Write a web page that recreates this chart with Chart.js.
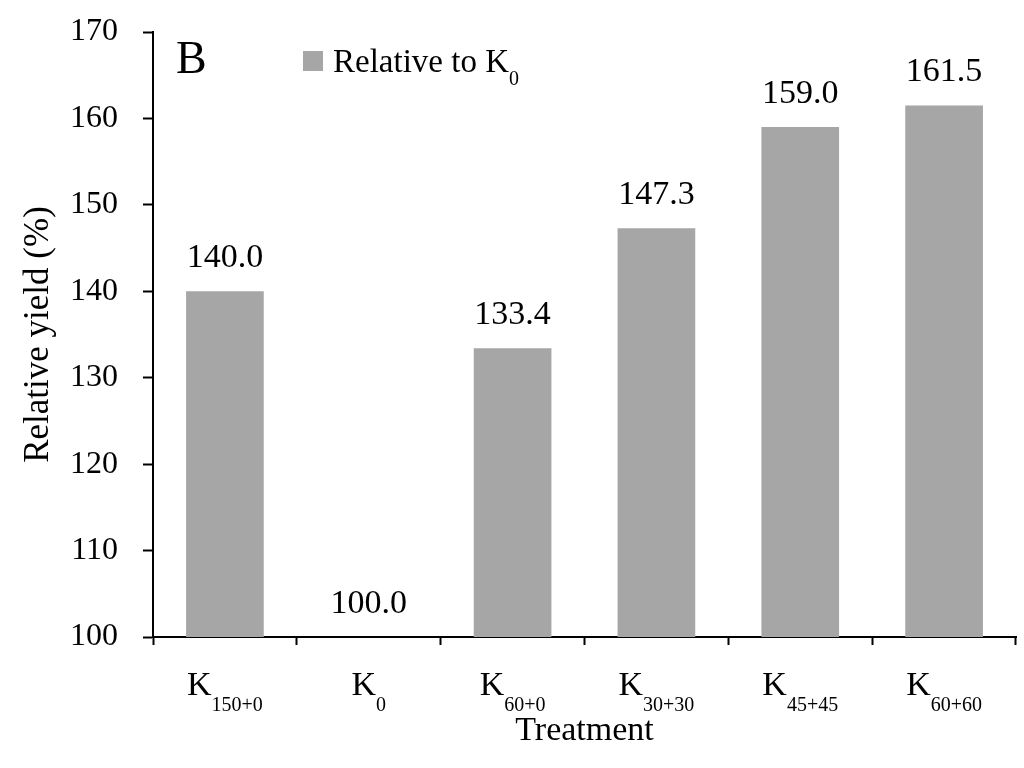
<!DOCTYPE html>
<html>
<head>
<meta charset="utf-8">
<script src="https://cdn.jsdelivr.net/npm/chart.js@4.4.1/dist/chart.umd.min.js"></script>
<style>
  html, body { margin: 0; padding: 0; background: #fff; }
  #wrap { width: 1024px; height: 768px; }
</style>
</head>
<body>
<div id="wrap"><canvas id="chart"></canvas></div>
<script>
// data
var treatmentBase = ["K", "K", "K", "K", "K", "K"];
var treatmentSub = ["150+0", "0", "60+0", "30+30", "45+45", "60+60"];
var relativeYield = [140.0, 100.0, 133.4, 147.3, 159.0, 161.5];
var yMin = 100, yMax = 170, yStep = 10;
var legendBase = "Relative to K";
var legendSub = "0";
var panelLetter = "B";

var serif = "'Liberation Serif', 'Times New Roman', serif";
var barColor = "#a6a6a6";

// labels, value labels, legend, panel letter
var drawTexts = {
    id: "drawTexts",
    afterDatasetsDraw: function (chart) {
        var ctx = chart.ctx;
        var xs = chart.scales.x;
        var meta = chart.getDatasetMeta(0);
        ctx.save();
        ctx.fillStyle = "#000";
        ctx.textBaseline = "alphabetic";

        // values above bars
        ctx.font = "34px " + serif;
        ctx.textAlign = "center";
        meta.data.forEach(function (bar, i) {
            ctx.fillText(relativeYield[i].toFixed(1), bar.x, bar.y - 24);
        });

        // category labels with subscripts
        ctx.textAlign = "left";
        treatmentBase.forEach(function (b, i) {
            ctx.font = "34px " + serif;
            var w1 = ctx.measureText(b).width;
            ctx.font = "20px " + serif;
            var w2 = ctx.measureText(treatmentSub[i]).width;
            var x0 = xs.getPixelForValue(i) - (w1 + w2) / 2;
            ctx.font = "34px " + serif;
            ctx.fillText(b, x0, 695);
            ctx.font = "20px " + serif;
            ctx.fillText(treatmentSub[i], x0 + w1, 711);
        });

        // panel letter
        ctx.font = "46px " + serif;
        ctx.fillText(panelLetter, 176, 73);

        // legend
        ctx.fillStyle = barColor;
        ctx.fillRect(303, 51, 20, 20);
        ctx.fillStyle = "#000";
        ctx.font = "33px " + serif;
        ctx.fillText(legendBase, 333, 72);
        var lw = ctx.measureText(legendBase).width;
        ctx.font = "20px " + serif;
        ctx.fillText(legendSub, 333 + lw, 85);
        ctx.restore();
    }
};

new Chart("chart", {
    type: "bar",
    data: {
        labels: treatmentSub,
        datasets: [{
            data: relativeYield,
            backgroundColor: barColor,
            barPercentage: 0.54,
            categoryPercentage: 1.0
        }]
    },
    options: {
        responsive: true,
        maintainAspectRatio: false,
        animation: false,
        layout: { padding: { top: 32, right: 8, bottom: 0, left: 0 } },
        plugins: {
            legend: { display: false },
            tooltip: { enabled: false }
        },
        scales: {
            x: {
                offset: true,
                grid: {
                    offset: true,
                    drawOnChartArea: false,
                    drawTicks: true,
                    tickLength: 8,
                    tickWidth: 2,
                    tickColor: "#000"
                },
                border: { color: "#000", width: 2 },
                ticks: { display: false },
                title: {
                    display: true,
                    text: "Treatment",
                    color: "#000",
                    font: { family: serif, size: 34 },
                    padding: { top: 0, bottom: 17 }
                },
                afterFit: function (scale) { scale.height = 131; }
            },
            y: {
                min: yMin,
                max: yMax,
                ticks: {
                    stepSize: yStep,
                    color: "#000",
                    padding: 25,
                    font: { family: serif, size: 32 }
                },
                grid: {
                    drawOnChartArea: false,
                    drawTicks: true,
                    tickLength: 10,
                    tickWidth: 2,
                    tickColor: "#000"
                },
                border: { color: "#000", width: 2 },
                title: {
                    display: true,
                    text: "Relative yield (%)",
                    color: "#000",
                    font: { family: serif, size: 35 },
                    padding: { top: 18, bottom: 0 }
                },
                afterFit: function (scale) {
                    scale.width = 153;
                    scale.paddingTop = 0;
                    scale.paddingBottom = 0;
                }
            }
        }
    },
    plugins: [drawTexts]
});
</script>
</body>
</html>
